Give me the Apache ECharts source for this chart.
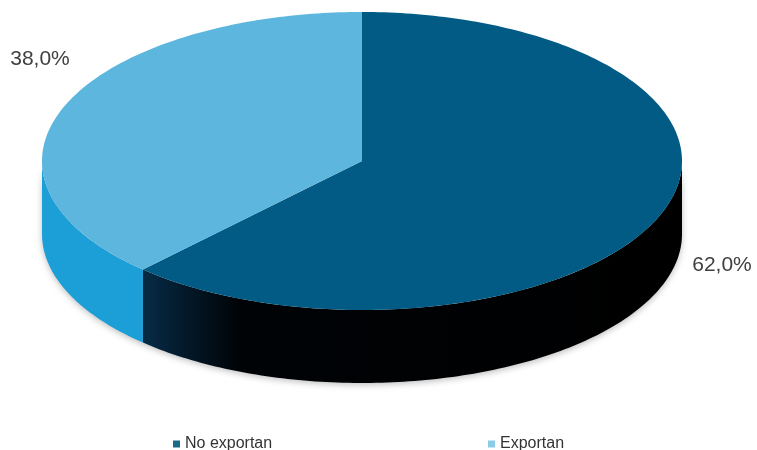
<!DOCTYPE html>
<html>
<head>
<meta charset="utf-8">
<script src="https://cdn.jsdelivr.net/npm/echarts@6/dist/echarts.min.js"></script>
<style>
  html, body { margin: 0; padding: 0; background: #fff; }
  #chart { width: 757px; height: 450px; }
</style>
</head>
<body>
<div id="chart"></div>
<script>
// Share of firms by export status (percent)
const categories = ['No exportan', 'Exportan'];
const shares = [62.0, 38.0];

// Colours: top face, legend swatch
const topColors = ['#015b85', '#5cb6de'];
const legendColors = ['#1b6a88', '#8ccbe6'];

// Geometry of the tilted disc
const disc = { cx: 362, cy: 161, rx: 320, ry: 149, depth: 73 };
const labelPos = [[722, 265], [40, 59]];

const total = shares.reduce((a, b) => a + b, 0);
const starts = [];
let acc = 0;
shares.forEach(v => { starts.push(acc / total * 360); acc += v; });

function pt(deg, dy) {
  const r = deg * Math.PI / 180;
  return [disc.cx + disc.rx * Math.sin(r), disc.cy - disc.ry * Math.cos(r) + (dy || 0)];
}
function arc(a0, a1, dy) {
  const pts = [];
  const n = Math.max(2, Math.ceil(Math.abs(a1 - a0)));
  for (let k = 0; k <= n; k++) pts.push(pt(a0 + (a1 - a0) * k / n, dy));
  return pts;
}
function fmt(v) { return v.toFixed(1).replace('.', ',') + '%'; }

function sideFill(i) {
  if (i === 1) return '#1c9fd7';
  return new echarts.graphic.LinearGradient(115, 0, 682, 0, [
    { offset: 0, color: '#0b3e5e' },
    { offset: 0.08, color: '#05233a' },
    { offset: 0.22, color: '#000306' },
    { offset: 1, color: '#000000' }
  ], true);
}

function makeRender(i) {
  return function () {
    const a0 = starts[i];
    const a1 = a0 + shares[i] / total * 360;
    const children = [];
    // front wall: the part of the slice facing the viewer (90..270 deg)
    const s0 = Math.max(a0, 90), s1 = Math.min(a1, 270);
    if (s1 > s0) {
      const pts = arc(s0, s1, 0).concat(arc(s1, s0, disc.depth));
      children.push({
        type: 'polygon',
        shape: { points: pts },
        style: {
          fill: sideFill(i),
          shadowBlur: 6, shadowColor: 'rgba(0,0,0,0.25)', shadowOffsetY: 2
        }
      });
    }
    // top face
    const top = [[disc.cx, disc.cy]].concat(arc(a0, a1, 0));
    children.push({
      type: 'polygon',
      shape: { points: top },
      style: { fill: topColors[i] }
    });
    // value label
    children.push({
      type: 'text',
      style: {
        text: fmt(shares[i]),
        x: labelPos[i][0], y: labelPos[i][1],
        align: 'center', verticalAlign: 'middle',
        fill: '#404040', fontSize: 21,
        fontFamily: '"Liberation Sans", Arial, sans-serif'
      }
    });
    return { type: 'group', children: children };
  };
}

const chart = echarts.init(document.getElementById('chart'), null, { renderer: 'canvas' });
const legendBase = {
  top: 431, icon: 'rect', itemWidth: 7, itemHeight: 7, itemGap: 4,
  textStyle: { fontSize: 16, color: '#333', fontFamily: '"Liberation Sans", Arial, sans-serif' }
};
chart.setOption({
  animation: false,
  backgroundColor: '#ffffff',
  legend: [
    Object.assign({ left: 168, data: [categories[0]] }, legendBase),
    Object.assign({ left: 483, data: [categories[1]] }, legendBase)
  ],
  series: categories.map((name, i) => ({
    type: 'custom',
    name: name,
    coordinateSystem: 'none',
    silent: true,
    itemStyle: { color: legendColors[i] },
    data: [[shares[i]]],
    renderItem: makeRender(i)
  }))
});
</script>
</body>
</html>
